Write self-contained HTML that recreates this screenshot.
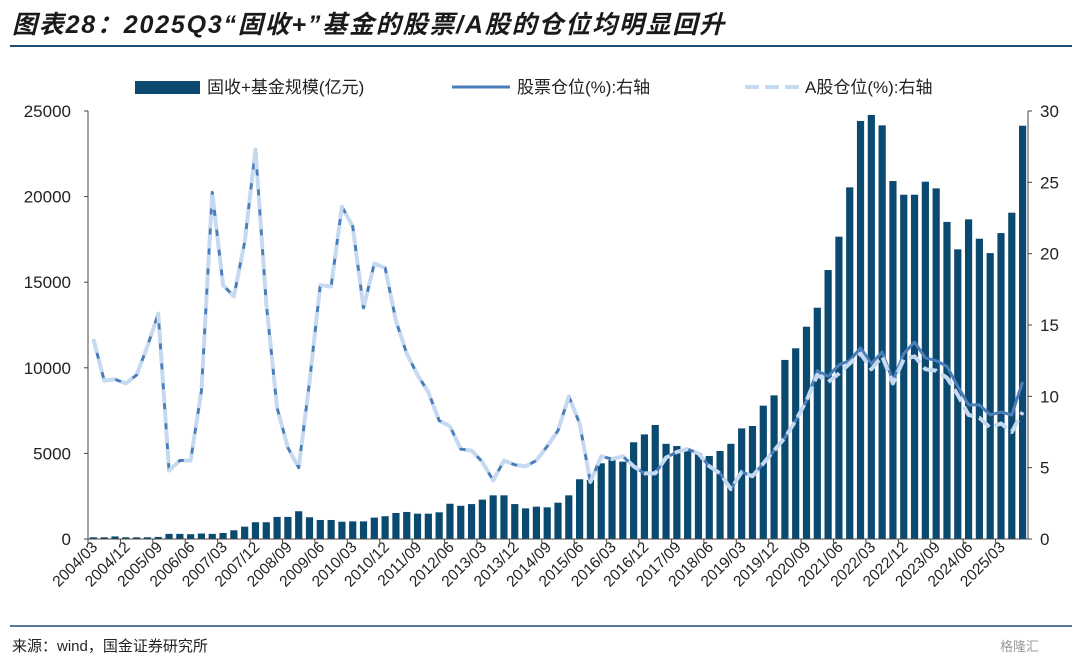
<!DOCTYPE html>
<html><head><meta charset="utf-8"><style>
body{margin:0;background:#fff;}
svg text{font-family:"Liberation Sans","Noto Sans CJK SC",sans-serif;}
</style></head><body>
<svg id="chart" width="1080" height="662" xmlns="http://www.w3.org/2000/svg">
<text x="12" y="33" font-size="25" letter-spacing="1.8" font-weight="bold" font-style="italic" fill="#1a1a1a">图表28：2025Q3“固收+”基金的股票/A股的仓位均明显回升</text>
<line x1="10" y1="46" x2="1072" y2="46" stroke="#1f4e79" stroke-width="2"/>
<g>
<rect x="135" y="81" width="65" height="13" fill="#0b4a70"/>
<text x="207" y="93" font-size="17" fill="#222">固收+基金规模(亿元)</text>
<line x1="452" y1="87" x2="510" y2="87" stroke="#4a7ebb" stroke-width="3"/>
<text x="517" y="93" font-size="17" fill="#222">股票仓位(%):右轴</text>
<line x1="745" y1="87" x2="800" y2="87" stroke="#c5d9f1" stroke-width="4" stroke-dasharray="14,6"/>
<text x="805" y="93" font-size="17" fill="#222">A股仓位(%):右轴</text>
</g>
<g id="plot"></g>
<line x1="10" y1="626" x2="1072" y2="626" stroke="#1f4e79" stroke-width="1.5"/>
<text x="12" y="651" font-size="15" fill="#222">来源：wind，国金证券研究所</text>
<text x="1000" y="651" font-size="13" fill="#999">格隆汇</text>
</svg>
<script>
const fundSize=[100,100,150,100,100,100,120,300,300,280,320,300,350,510,720,980,980,1290,1290,1620,1270,1110,1110,1010,1030,1030,1250,1330,1520,1580,1480,1480,1560,2060,1940,2040,2300,2550,2550,2040,1790,1890,1850,2120,2550,3490,3450,4420,4610,4520,5650,6110,6660,5560,5430,5240,5000,4850,5140,5560,6460,6600,7790,8390,10460,11140,12400,13510,15710,17660,20540,24420,24770,24160,20910,20110,20110,20870,20480,18520,16920,18670,17540,16700,17870,19060,24140];
const stockPos=[14.0,11.1,11.2,10.9,11.5,13.5,15.8,4.8,5.5,5.5,10.4,24.3,17.8,17.0,20.8,27.3,16.5,9.2,6.4,5.0,11.0,17.8,17.7,23.3,21.9,16.2,19.3,19.0,15.3,13.0,11.5,10.3,8.3,7.9,6.3,6.2,5.4,4.1,5.5,5.2,5.1,5.5,6.5,7.6,10.0,8.1,4.0,5.8,5.6,5.8,5.1,4.6,4.6,5.7,6.1,6.3,6.0,5.1,4.6,3.5,4.7,4.4,5.3,6.2,7.1,8.3,9.7,11.8,11.4,12.2,12.5,13.4,12.3,13.1,11.1,13.0,13.8,12.7,12.5,12.1,10.7,9.4,9.4,8.7,8.9,8.7,11.0];
const aSharePos=[14.0,11.1,11.2,10.9,11.5,13.5,15.8,4.8,5.5,5.5,10.4,24.3,17.8,17.0,20.8,27.3,16.5,9.2,6.4,5.0,11.0,17.8,17.7,23.3,21.9,16.2,19.3,19.0,15.3,13.0,11.5,10.3,8.3,7.9,6.3,6.2,5.4,4.1,5.5,5.2,5.1,5.5,6.5,7.6,10.0,8.1,4.0,5.8,5.6,5.8,5.1,4.6,4.6,5.7,6.1,6.3,6.0,5.1,4.6,3.5,4.7,4.4,5.3,6.2,7.1,8.3,9.7,11.5,11.0,11.6,12.3,13.0,11.9,12.8,10.9,12.6,12.8,11.9,11.8,11.3,10.1,8.7,8.5,7.8,8.1,7.5,8.9];
const leftTicks=[0,5000,10000,15000,20000,25000];
const rightTicks=[0,5,10,15,20,25,30];
function catLabel(i){const y=2004+Math.floor(i/4);const m=['03','06','09','12'][i%4];return y+'/'+m;}
const NS='http://www.w3.org/2000/svg';
const plot=document.getElementById('plot');
const X0=88,X1=1028,Y0=539,Y1=111,n=fundSize.length,bw=(X1-X0)/n;
const xC=i=>X0+bw*(i+0.5);
const yL=v=>Y0-(v/25000)*(Y0-Y1);
const yR=v=>Y0-(v/30)*(Y0-Y1);
function mk(t,a){const e=document.createElementNS(NS,t);for(const k in a)e.setAttribute(k,a[k]);plot.appendChild(e);return e;}
let e;
leftTicks.forEach(v=>{
 e=mk('text',{x:71,y:yL(v)+6,'font-size':17,'text-anchor':'end',fill:'#222'});e.textContent=v;
 
 
 mk('line',{x1:X0-4,y1:yL(v),x2:X0,y2:yL(v),stroke:'#444'});
});
rightTicks.forEach(v=>{
 e=mk('text',{x:1040,y:yR(v)+6,'font-size':17,fill:'#222'});e.textContent=v;
 
 
 mk('line',{x1:X1,y1:yR(v),x2:X1+4,y2:yR(v),stroke:'#444'});
});
fundSize.forEach((v,i)=>{
 e=mk('rect',{x:xC(i)-3.6,y:yL(v),width:7.2,height:Y0-yL(v),fill:'#0b4a70'});
 
 
});
e=mk('line',{x1:X0,y1:Y1,x2:X0,y2:Y0,stroke:'#444'});


e=mk('line',{x1:X1,y1:Y1,x2:X1,y2:Y0,stroke:'#444'});


e=mk('line',{x1:X0,y1:Y0,x2:X1,y2:Y0,stroke:'#444'});


for(let i=0;i<n;i+=3){
 mk('line',{x1:X0+bw*i,y1:Y0,x2:X0+bw*i,y2:Y0+4,stroke:'#444'});
 const tx=xC(i)+5,ty=Y0+9;
 e=mk('text',{x:tx,y:ty,'font-size':15.5,'text-anchor':'end',fill:'#222',transform:`rotate(-45 ${tx} ${ty})`});
 e.textContent=catLabel(i);
 
 
}
const p1=stockPos.map((v,i)=>xC(i)+','+yR(v)).join(' ');
e=mk('polyline',{points:p1,fill:'none',stroke:'#4a7ebb','stroke-width':3,'stroke-linejoin':'round'});


const p2=aSharePos.map((v,i)=>xC(i)+','+yR(v)).join(' ');
e=mk('polyline',{points:p2,fill:'none',stroke:'#c5d9f1','stroke-width':4,'stroke-dasharray':'14,6','stroke-linejoin':'round'});


</script>
</body></html>
